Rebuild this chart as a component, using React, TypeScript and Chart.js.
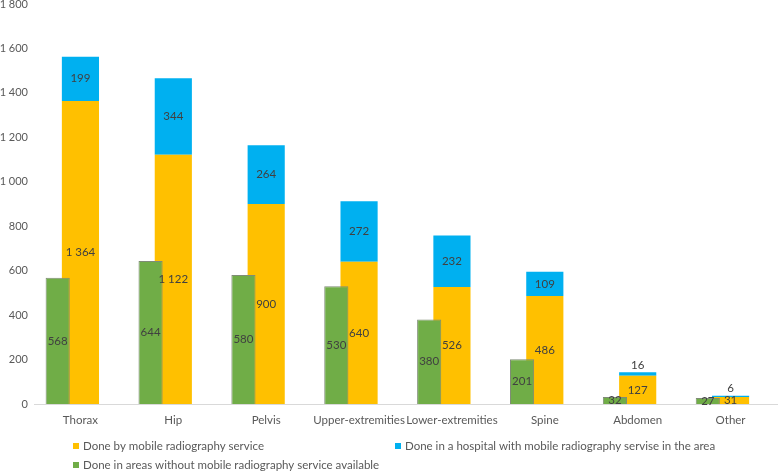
import React, { useEffect, useRef } from "react";
import { Chart, registerables } from "chart.js";

Chart.register(...registerables);

const categories = ["Thorax", "Hip", "Pelvis", "Upper-extremities", "Lower-extremities", "Spine", "Abdomen", "Other"];
const mobileService = [1364, 1122, 900, 640, 526, 486, 127, 31];
const hospitalWithService = [199, 344, 264, 272, 232, 109, 16, 6];
const withoutService = [568, 644, 580, 530, 380, 201, 32, 27];
const yTicks = [0, 200, 400, 600, 800, 1000, 1200, 1400, 1600, 1800];

const seriesNames = [
  "Done by mobile radiography service",
  "Done in a hospital with mobile radiography servise in the area",
  "Done in areas without mobile radiography service available",
];

const YELLOW = "#FFC000";
const BLUE = "#00B0F0";
const GREEN = "#70AD47";
const FONT = "Lato";
const FONT_SIZE = 11.5;
const GREEN_SHIFT = 0.255;

const fmt = (v: number) => String(v).replace(/\B(?=(\d{3})+(?!\d))/g, " ");

const valueLabels = {
  id: "valueLabels",
  afterDatasetsDraw(chart: any) {
    const ctx = chart.ctx;
    ctx.save();
    ctx.font = `${FONT_SIZE}px ${FONT}`;
    ctx.fillStyle = "#404040";
    ctx.textAlign = "center";
    ctx.textBaseline = "middle";
    chart.data.datasets.forEach((ds: any, di: number) => {
      const meta = chart.getDatasetMeta(di);
      meta.data.forEach((el: any, i: number) => {
        const { x, y, base } = el.getProps(["x", "y", "base"], true);
        const h = Math.abs(base - y);
        let ty = (y + base) / 2;
        if (ds.labelAbove && h < 14) ty = y - 7;
        ctx.fillText(fmt(ds.labelValues[i]), x, ty);
      });
    });
    ctx.restore();
  },
};

const customLegend = {
  id: "customLegend",
  afterDraw(chart: any) {
    const ctx = chart.ctx;
    const items = [
      { color: YELLOW, text: seriesNames[0], x: 73, y: 446 },
      { color: BLUE, text: seriesNames[1], x: 395, y: 446 },
      { color: GREEN, text: seriesNames[2], x: 73, y: 465 },
    ];
    ctx.save();
    ctx.font = `${FONT_SIZE}px ${FONT}`;
    ctx.textAlign = "left";
    ctx.textBaseline = "middle";
    items.forEach((it) => {
      ctx.fillStyle = it.color;
      ctx.fillRect(it.x, it.y - 3, 6, 6);
      ctx.fillStyle = "#595959";
      ctx.fillText(it.text, it.x + 10, it.y);
    });
    ctx.restore();
  },
};

export default function App() {
  const ref = useRef<HTMLCanvasElement | null>(null);
  useEffect(() => {
    document.body.style.margin = "0";
    const chart = new Chart(ref.current as HTMLCanvasElement, {
      type: "bar",
      data: {
        labels: categories,
        datasets: [
          {
            label: seriesNames[2],
            data: withoutService.map((v, i) => ({ x: i, y: v })) as any,
            labelValues: withoutService,
            xAxisID: "x2",
            stack: "green",
            grouped: false,
            order: 0,
            backgroundColor: GREEN,
            borderColor: "#7f8c76",
            borderWidth: 1,
            categoryPercentage: 1,
            barPercentage: 0.26,
          } as any,
          {
            label: seriesNames[0],
            data: mobileService,
            labelValues: mobileService,
            xAxisID: "x",
            stack: "main",
            grouped: false,
            order: 1,
            backgroundColor: YELLOW,
            categoryPercentage: 1,
            barPercentage: 0.4,
          } as any,
          {
            label: seriesNames[1],
            data: hospitalWithService,
            labelValues: hospitalWithService,
            labelAbove: true,
            xAxisID: "x",
            stack: "main",
            grouped: false,
            order: 1,
            backgroundColor: BLUE,
            categoryPercentage: 1,
            barPercentage: 0.4,
          } as any,
        ],
      },
      options: {
        animation: false,
        responsive: false,
        devicePixelRatio: 1,
        layout: { padding: { top: 0, right: 1, bottom: 0, left: 0 } },
        plugins: { legend: { display: false }, tooltip: { enabled: false } },
        scales: {
          x: {
            type: "category",
            stacked: true,
            offset: true,
            grid: { display: false, drawTicks: false },
            border: { display: true, color: "#d9d9d9", width: 1 },
            ticks: {
              color: "#595959",
              font: { family: FONT, size: FONT_SIZE },
              padding: 9,
              maxRotation: 0,
              autoSkip: false,
            },
            afterFit: (s: any) => {
              s.height = 70;
            },
          },
          x2: {
            type: "linear",
            display: false,
            offset: false,
            min: -GREEN_SHIFT,
            max: categories.length - GREEN_SHIFT,
            grid: { display: false, drawTicks: false },
            afterBuildTicks: (s: any) => {
              s.ticks = categories.map((_, i) => ({ value: i }));
            },
          },
          y: {
            stacked: true,
            min: 0,
            max: 1800,
            grid: { display: false, drawTicks: false },
            border: { display: false },
            afterBuildTicks: (s: any) => {
              s.ticks = yTicks.map((v) => ({ value: v }));
            },
            ticks: {
              color: "#595959",
              font: { family: FONT, size: 11 },
              padding: 6,
              callback: (v: any) => fmt(Number(v)),
            },
            afterFit: (s: any) => {
              s.width = 34;
              s.paddingTop = 4;
              s.paddingBottom = 0;
            },
          },
        },
      },
      plugins: [valueLabels, customLegend],
    });
    return () => chart.destroy();
  }, []);
  return (
    <div style={{ width: 778, height: 474, position: "relative" }}>
      <canvas ref={ref} width={778} height={474} style={{ display: "block" }} />
    </div>
  );
}
